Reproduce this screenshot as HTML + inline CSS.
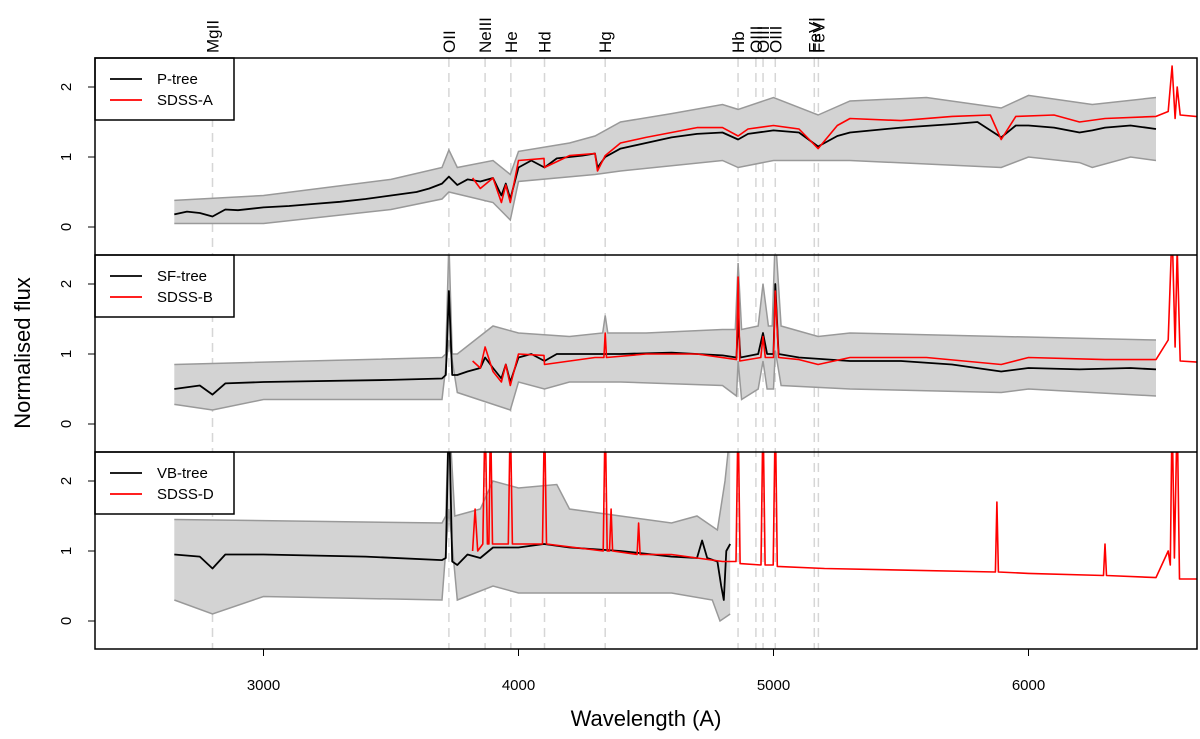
<!DOCTYPE html>
<html><head><meta charset="utf-8">
<style>
body{margin:0;background:#fff;}
svg{display:block;font-family:"Liberation Sans",Arial,sans-serif;}
</style></head>
<body>
<svg id="chart" width="1200" height="739" viewBox="0 0 1200 739">
<defs>
<clipPath id="c0"><rect x="95" y="58" width="1102" height="197"/></clipPath>
<clipPath id="c1"><rect x="95" y="255" width="1102" height="197"/></clipPath>
<clipPath id="c2"><rect x="95" y="452" width="1102" height="197"/></clipPath>
</defs>
<g id="vlines"></g>
<g id="panels"></g>
<g id="frame"></g>
</svg>
<script>
const lineNames = ["MgII","OII","NeIII","He","Hd","Hg","Hb","OIII","OIII","OIII","FeVI","FeVI"];
const lineWl = [2800,3727,3869,3970,4102,4340,4861,4931,4959,5007,5160,5176];
const xTicks = [3000,4000,5000,6000];
const yTicks = [0,1,2];
const legendBlack = ["P-tree","SF-tree","VB-tree"];
const legendRed = ["SDSS-A","SDSS-B","SDSS-D"];

// Panel 1
const pTree = [[2650,0.18],[2700,0.22],[2750,0.2],[2800,0.15],[2850,0.25],[2900,0.24],[3000,0.28],[3100,0.3],[3200,0.33],[3300,0.36],[3400,0.4],[3500,0.45],[3600,0.5],[3650,0.55],[3700,0.62],[3727,0.72],[3760,0.6],[3800,0.68],[3850,0.65],[3900,0.7],[3933,0.45],[3950,0.62],[3968,0.4],[4000,0.85],[4050,0.95],[4102,0.85],[4150,0.98],[4200,1.0],[4250,1.02],[4300,1.05],[4310,0.85],[4340,1.0],[4400,1.12],[4500,1.2],[4600,1.28],[4700,1.33],[4800,1.35],[4861,1.25],[4900,1.33],[5000,1.38],[5100,1.35],[5175,1.15],[5250,1.3],[5300,1.35],[5500,1.42],[5700,1.47],[5800,1.5],[5893,1.28],[5950,1.45],[6000,1.45],[6100,1.42],[6200,1.35],[6250,1.38],[6300,1.42],[6400,1.45],[6500,1.4]];
const pUpper = [[2650,0.38],[3000,0.45],[3500,0.68],[3700,0.85],[3727,1.1],[3760,0.85],[3900,0.95],[3968,0.75],[4000,1.08],[4200,1.2],[4300,1.3],[4400,1.5],[4600,1.62],[4800,1.75],[4861,1.68],[5000,1.85],[5175,1.6],[5300,1.8],[5600,1.85],[5893,1.7],[6000,1.88],[6250,1.75],[6500,1.85]];
const pLower = [[2650,0.05],[3000,0.05],[3500,0.25],[3700,0.4],[3727,0.5],[3900,0.35],[3968,0.1],[4000,0.65],[4300,0.75],[4400,0.8],[4800,0.95],[4861,0.85],[5000,0.95],[5300,0.95],[5893,0.85],[6000,1.0],[6200,0.92],[6250,0.85],[6400,1.0],[6500,0.95]];
const sdssA = [[3820,0.7],[3850,0.55],[3900,0.7],[3933,0.35],[3950,0.6],[3968,0.35],[4000,0.95],[4100,0.98],[4102,0.85],[4200,1.02],[4300,1.05],[4310,0.8],[4340,1.02],[4400,1.2],[4500,1.28],[4600,1.35],[4700,1.42],[4800,1.42],[4861,1.3],[4900,1.4],[5000,1.45],[5100,1.4],[5175,1.12],[5250,1.45],[5300,1.55],[5500,1.52],[5700,1.58],[5850,1.6],[5893,1.25],[5950,1.58],[6100,1.6],[6200,1.5],[6300,1.55],[6500,1.58],[6548,1.65],[6563,2.3],[6575,1.55],[6583,2.0],[6595,1.6],[6681,1.57]];

// Panel 2
const sfTree = [[2650,0.5],[2750,0.55],[2800,0.42],[2850,0.58],[3000,0.6],[3500,0.63],[3700,0.65],[3715,0.7],[3727,1.9],[3740,0.7],[3760,0.7],[3800,0.75],[3850,0.8],[3869,0.95],[3900,0.8],[3933,0.65],[3950,0.85],[3968,0.6],[4000,0.95],[4050,1.0],[4102,0.9],[4150,1.0],[4300,1.0],[4340,1.0],[4400,1.0],[4600,1.02],[4800,0.98],[4855,0.95],[4861,1.5],[4870,0.95],[4940,1.0],[4959,1.3],[4975,1.0],[5000,1.0],[5007,2.0],[5020,1.0],[5100,0.95],[5300,0.9],[5500,0.9],[5700,0.85],[5893,0.75],[6000,0.8],[6200,0.78],[6400,0.8],[6500,0.78]];
const sfUpper = [[2650,0.85],[3700,0.95],[3715,1.0],[3727,2.6],[3740,1.0],[3760,1.0],[3900,1.4],[4000,1.3],[4200,1.25],[4330,1.3],[4340,1.55],[4350,1.3],[4500,1.3],[4800,1.35],[4850,1.35],[4861,2.3],[4875,1.35],[4940,1.4],[4959,2.0],[4980,1.4],[4995,1.4],[5007,2.7],[5030,1.4],[5175,1.25],[5300,1.3],[6500,1.2]];
const sfLower = [[2650,0.28],[2800,0.2],[3000,0.35],[3700,0.35],[3727,1.2],[3760,0.45],[3968,0.2],[4000,0.6],[4102,0.5],[4200,0.6],[4400,0.6],[4800,0.55],[4855,0.4],[4861,0.9],[4875,0.35],[4940,0.5],[4959,0.9],[4975,0.5],[5000,0.5],[5007,1.05],[5030,0.55],[5300,0.5],[5893,0.45],[6000,0.5],[6500,0.4]];
const sdssB = [[3820,0.9],[3850,0.8],[3869,1.1],[3900,0.75],[3933,0.6],[3950,0.85],[3968,0.55],[4000,1.0],[4100,0.98],[4102,0.85],[4300,0.95],[4335,0.95],[4340,1.3],[4345,0.95],[4500,1.0],[4700,1.0],[4855,0.92],[4861,2.1],[4868,0.9],[4950,0.95],[4959,1.25],[4968,0.95],[5000,0.95],[5007,1.9],[5020,0.95],[5100,0.92],[5175,0.85],[5300,0.95],[5600,0.95],[5893,0.85],[6000,0.95],[6300,0.92],[6500,0.92],[6548,1.2],[6563,2.8],[6575,1.1],[6583,2.5],[6595,0.9],[6681,0.88]];

// Panel 3
const vbTree = [[2650,0.95],[2750,0.92],[2800,0.75],[2850,0.95],[3000,0.95],[3400,0.92],[3700,0.87],[3715,0.9],[3727,3.0],[3740,0.85],[3760,0.8],[3800,0.95],[3850,0.9],[3900,1.05],[4000,1.05],[4100,1.1],[4200,1.05],[4400,1.0],[4600,0.92],[4700,0.9],[4720,1.15],[4740,0.9],[4780,0.85],[4795,0.5],[4805,0.3],[4815,1.0],[4830,1.1]];
const vbUpper = [[2650,1.45],[3700,1.4],[3715,1.5],[3727,3.0],[3750,1.5],[3850,1.6],[3900,2.0],[4000,1.9],[4150,1.95],[4200,1.6],[4400,1.5],[4600,1.4],[4700,1.5],[4780,1.3],[4810,2.0],[4830,2.7]];
const vbLower = [[2650,0.3],[2800,0.1],[3000,0.35],[3700,0.3],[3727,1.6],[3760,0.3],[3900,0.5],[4000,0.4],[4300,0.4],[4600,0.4],[4760,0.3],[4790,0.0],[4830,0.1]];
const sdssD = [[3820,1.0],[3830,1.6],[3840,1.0],[3860,1.1],[3869,3.0],[3878,1.1],[3884,1.1],[3890,3.0],[3898,1.1],[3960,1.1],[3968,3.0],[3976,1.1],[4094,1.1],[4102,3.0],[4110,1.1],[4332,1.0],[4340,3.0],[4348,1.0],[4357,1.0],[4363,1.6],[4369,1.0],[4465,0.95],[4471,1.4],[4477,0.95],[4600,0.95],[4800,0.85],[4853,0.85],[4861,3.0],[4869,0.82],[4951,0.8],[4959,3.0],[4967,0.8],[4999,0.8],[5007,3.0],[5015,0.78],[5200,0.75],[5870,0.7],[5876,1.7],[5882,0.7],[6000,0.68],[6294,0.65],[6300,1.1],[6306,0.65],[6500,0.62],[6548,1.0],[6556,0.8],[6563,3.0],[6572,0.9],[6583,3.0],[6592,0.6],[6681,0.6]];

const blackSeries = [pTree, sfTree, vbTree];
const redSeries = [sdssA, sdssB, sdssD];
const upperSeries = [pUpper, sfUpper, vbUpper];
const lowerSeries = [pLower, sfLower, vbLower];

const NS = "http://www.w3.org/2000/svg";
const X0 = 263.5, XS = 0.255;
const yZero = [227,424,621], YS = 70;
function xs(w){return X0 + (w-3000)*XS;}
function ys(p,v){return yZero[p] - v*YS;}
function mk(tag, attrs, parent){const e=document.createElementNS(NS,tag);for(const k in attrs)e.setAttribute(k,attrs[k]);parent.appendChild(e);return e;}
const svg = document.getElementById('chart');
const vg = document.getElementById('vlines');
const pg = document.getElementById('panels');
const fg = document.getElementById('frame');

lineWl.forEach((w,i)=>{
  const l = mk('line',{x1:xs(w),x2:xs(w),y1:58,y2:649,stroke:'#d6d6d6','stroke-width':1.5,'stroke-dasharray':'9,6'},vg);
  
  
  const t = mk('text',{x:0,y:0,transform:`translate(${xs(w)+6},53) rotate(-90)`,'font-size':17,fill:'#000'},svg);
  t.textContent = lineNames[i];
  
  
});

function pts(p,arr){return arr.map(d=>xs(d[0]).toFixed(1)+','+ys(p,d[1]).toFixed(1)).join(' ');}

for(let p=0;p<3;p++){
  const g = mk('g',{'clip-path':`url(#c${p})`},pg);
  
  
  const band = mk('polygon',{points:pts(p,upperSeries[p])+' '+pts(p,lowerSeries[p].slice().reverse()),fill:'#d3d3d3',stroke:'none'},g);
  
  
  const up = mk('polyline',{points:pts(p,upperSeries[p]),fill:'none',stroke:'#999','stroke-width':1.5},g);
  
  
  const lo = mk('polyline',{points:pts(p,lowerSeries[p]),fill:'none',stroke:'#999','stroke-width':1.5},g);
  
  
  const bl = mk('polyline',{points:pts(p,blackSeries[p]),fill:'none',stroke:'#000','stroke-width':1.8,'stroke-linejoin':'round'},g);
  
  
  const rd = mk('polyline',{points:pts(p,redSeries[p]),fill:'none',stroke:'#f00','stroke-width':1.6,'stroke-linejoin':'round'},g);
  
  

  yTicks.forEach(v=>{
    const y = ys(p,v);
    mk('line',{x1:88,x2:95,y1:y,y2:y,stroke:'#000','stroke-width':1},fg);
    const t = mk('text',{x:0,y:0,transform:`translate(71,${y}) rotate(-90)`,'font-size':15,'text-anchor':'middle'},fg);
    t.textContent = v;
    
    
  });

  const top = 58 + p*197;
  const lg = mk('g',{},fg);
  
  
  mk('rect',{x:95,y:top,width:139,height:62,fill:'#fff',stroke:'#000','stroke-width':1.5},lg);
  mk('line',{x1:110,x2:142,y1:top+21,y2:top+21,stroke:'#000','stroke-width':1.8},lg);
  mk('line',{x1:110,x2:142,y1:top+42,y2:top+42,stroke:'#f00','stroke-width':1.8},lg);
  const t1 = mk('text',{x:157,y:top+26,'font-size':15},lg); t1.textContent = legendBlack[p];
  
  
  const t2 = mk('text',{x:157,y:top+47,'font-size':15},lg); t2.textContent = legendRed[p];
  
  
}

mk('line',{x1:95,x2:1197,y1:255,y2:255,stroke:'#000','stroke-width':1.5},fg);
mk('line',{x1:95,x2:1197,y1:452,y2:452,stroke:'#000','stroke-width':1.5},fg);
const box = mk('rect',{x:95,y:58,width:1102,height:591,fill:'none',stroke:'#000','stroke-width':1.5},fg);



xTicks.forEach(v=>{
  const x = xs(v);
  mk('line',{x1:x,x2:x,y1:649,y2:656,stroke:'#000','stroke-width':1},fg);
  const t = mk('text',{x:x,y:690,'font-size':15,'text-anchor':'middle'},fg);
  t.textContent = v;
  
  
});
const xt = mk('text',{x:646,y:726,'font-size':22,'text-anchor':'middle'},fg);
xt.textContent = 'Wavelength (A)';


const yt = mk('text',{x:0,y:0,transform:'translate(30,353) rotate(-90)','font-size':22,'text-anchor':'middle'},fg);
yt.textContent = 'Normalised flux';


</script>
</body></html>
